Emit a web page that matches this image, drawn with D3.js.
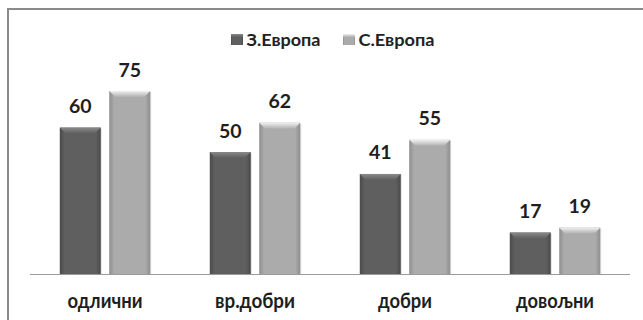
<!DOCTYPE html>
<html>
<head>
<meta charset="utf-8">
<script src="https://cdn.jsdelivr.net/npm/d3@7"></script>
<style>
  html, body { margin: 0; padding: 0; background: #fff; }
  svg { display: block; font-family: Lato, "Open Sans", sans-serif; }
</style>
</head>
<body>
<svg id="chart" width="643" height="320"></svg>
<script>
// Оцене по регионима
const categories = ["одлични", "вр.добри", "добри", "довољни"];
const seriesNames = ["З.Европа", "С.Европа"];
const westEurope = [60, 50, 41, 17];
const northEurope = [75, 62, 55, 19];

const svg = d3.select("#chart");
const W = 643, H = 320;

const base = { left: 30, right: 630, bottom: 274 };

// outer frame (top and left edges visible)
svg.append("path")
  .attr("d", `M8,${H + 2} L8,9 L${W + 2},9`)
  .attr("fill", "none").attr("stroke", "#8a8a8a").attr("stroke-width", 2);

const x0 = d3.scaleBand().domain(categories).range([base.left, base.right]).paddingInner(0).paddingOuter(0);
const x1 = d3.scaleBand().domain(seriesNames).range([30, 120]).paddingInner(0.18).paddingOuter(0);
const y = d3.scaleLinear().domain([0, 100]).range([base.bottom, base.bottom - 244]);

const palette = {
  "З.Европа": { mid: "#5f5f5f", edge: "#4a4a4a", topA: "#8a8a8a", topB: "#5f5f5f" },
  "С.Европа": { mid: "#ababab", edge: "#8e8e8e", topA: "#f0f0f0", topB: "#b0b0b0" }
};

const defs = svg.append("defs");
seriesNames.forEach((s, i) => {
  const p = palette[s];
  const g = defs.append("linearGradient").attr("id", "body" + i).attr("x1", 0).attr("x2", 1).attr("y1", 0).attr("y2", 0);
  g.append("stop").attr("offset", "0%").attr("stop-color", p.edge);
  g.append("stop").attr("offset", "12%").attr("stop-color", p.mid);
  g.append("stop").attr("offset", "88%").attr("stop-color", p.mid);
  g.append("stop").attr("offset", "100%").attr("stop-color", p.edge);
  const t = defs.append("linearGradient").attr("id", "top" + i).attr("x1", 0).attr("x2", 0).attr("y1", 0).attr("y2", 1);
  t.append("stop").attr("offset", "0%").attr("stop-color", p.topA);
  t.append("stop").attr("offset", "100%").attr("stop-color", p.topB);
});

// legend
const legend = svg.append("g").attr("font-weight", 700).attr("font-size", 17).attr("fill", "#222");
const legendX = [231, 343];
const legendTextW = [74, 76];
seriesNames.forEach((s, i) => {
  const gi = legend.append("g").attr("transform", `translate(${legendX[i]},34)`);
  gi.append("rect").attr("width", 12).attr("height", 11).attr("fill", `url(#body${i})`);
  gi.append("rect").attr("width", 12).attr("height", 3).attr("fill", `url(#top${i})`);
  gi.append("text").attr("x", 15.5).attr("y", 11.5)
    .attr("textLength", legendTextW[i]).attr("lengthAdjust", "spacingAndGlyphs")
    .text(s);
});

const data = categories.map((c, k) => ({ c, vals: [westEurope[k], northEurope[k]] }));

const groups = svg.append("g").selectAll("g").data(data).join("g")
  .attr("transform", d => `translate(${x0(d.c)},0)`);

const barW = 41;
groups.each(function (d) {
  const g = d3.select(this);
  d.vals.forEach((v, i) => {
    const s = seriesNames[i];
    const bx = x1(s) + (x1.bandwidth() - barW) / 2;
    const by = y(v), bh = y(0) - y(v);
    // shadow
    g.append("rect").attr("x", bx + 1).attr("y", by + 1).attr("width", barW).attr("height", bh - 1)
      .attr("fill", "#000").attr("opacity", 0.12);
    g.append("rect").attr("x", bx).attr("y", by).attr("width", barW).attr("height", bh)
      .attr("fill", `url(#body${i})`);
    // bevelled top
    const bev = 6;
    g.append("path")
      .attr("d", `M${bx},${by} L${bx + barW},${by} L${bx + barW - bev},${by + bev} L${bx + bev},${by + bev} Z`)
      .attr("fill", `url(#top${i})`);
    g.append("text")
      .attr("x", bx + barW / 2).attr("y", by - 14.5)
      .attr("text-anchor", "middle").attr("font-weight", 700).attr("font-size", 19.5).attr("fill", "#1e1e1e")
      .text(v);
  });
});

// baseline
svg.append("line").attr("x1", base.left).attr("x2", base.right).attr("y1", y(0) + 0.5).attr("y2", y(0) + 0.5)
  .attr("stroke", "#9a9a9a").attr("stroke-width", 1);

// category axis labels
const catW = [75, 80, 54, 78];
svg.append("g").selectAll("text").data(categories).join("text")
  .attr("x", d => x0(d) + x0.bandwidth() / 2).attr("y", 308)
  .attr("text-anchor", "middle").attr("font-weight", 700).attr("font-size", 20).attr("fill", "#1e1e1e")
  .attr("textLength", (d, i) => catW[i]).attr("lengthAdjust", "spacingAndGlyphs")
  .text(d => d);
</script>
</body>
</html>
